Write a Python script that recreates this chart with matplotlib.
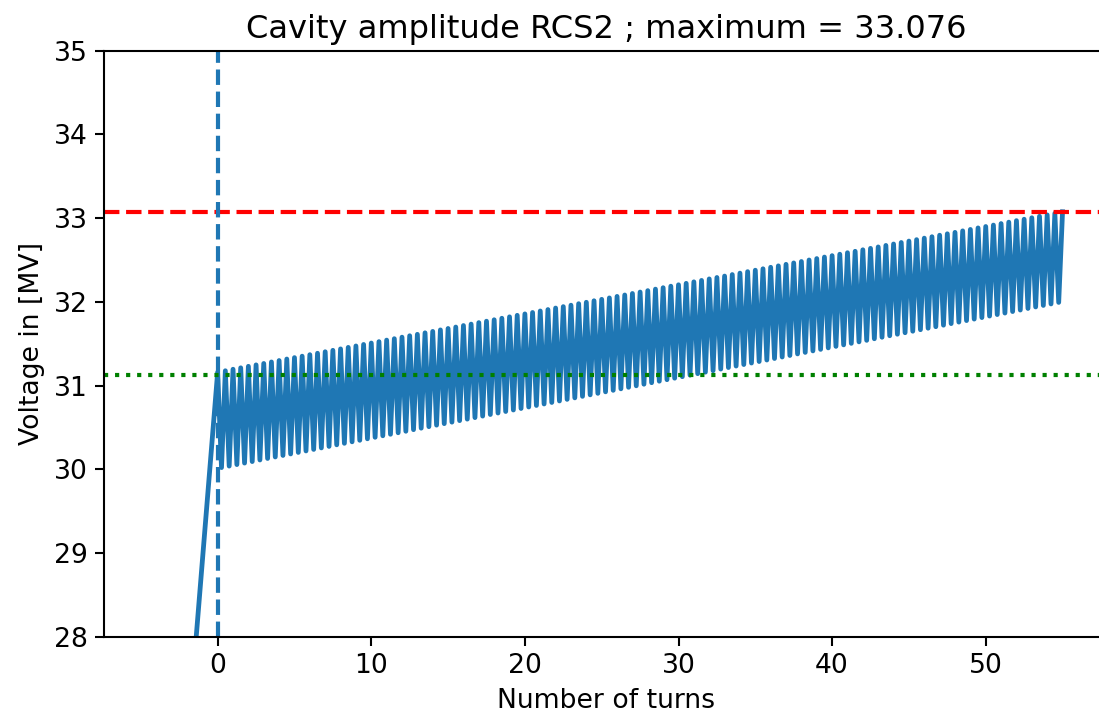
import numpy as np
import matplotlib
matplotlib.use("Agg")
import matplotlib.pyplot as plt

# sampled cavity voltage [MV]: top of each swing (every half turn from 0 to 55)
v_high = [31.160, 31.177, 31.195, 31.212, 31.230, 31.247, 31.264, 31.282, 31.299, 31.317,
          31.334, 31.351, 31.369, 31.386, 31.404, 31.421, 31.438, 31.456, 31.473, 31.491,
          31.508, 31.525, 31.543, 31.560, 31.578, 31.595, 31.612, 31.630, 31.647, 31.665,
          31.682, 31.699, 31.717, 31.734, 31.752, 31.769, 31.786, 31.804, 31.821, 31.839,
          31.856, 31.873, 31.891, 31.908, 31.926, 31.943, 31.960, 31.978, 31.995, 32.013,
          32.030, 32.047, 32.065, 32.082, 32.100, 32.117, 32.134, 32.152, 32.169, 32.187,
          32.204, 32.221, 32.239, 32.256, 32.274, 32.291, 32.308, 32.326, 32.343, 32.361,
          32.378, 32.395, 32.413, 32.430, 32.448, 32.465, 32.482, 32.500, 32.517, 32.535,
          32.552, 32.569, 32.587, 32.604, 32.622, 32.639, 32.656, 32.674, 32.691, 32.709,
          32.726, 32.743, 32.761, 32.778, 32.796, 32.813, 32.830, 32.848, 32.865, 32.883,
          32.900, 32.917, 32.935, 32.952, 32.970, 32.987, 33.004, 33.022, 33.039, 33.057,
          33.076]
# bottom of each swing (quarter turn after each top)
v_low = [30.020, 30.038, 30.056, 30.074, 30.092, 30.111, 30.129, 30.147, 30.165, 30.183,
         30.201, 30.219, 30.237, 30.255, 30.273, 30.292, 30.310, 30.328, 30.346, 30.364,
         30.382, 30.400, 30.418, 30.436, 30.454, 30.473, 30.491, 30.509, 30.527, 30.545,
         30.563, 30.581, 30.599, 30.617, 30.635, 30.654, 30.672, 30.690, 30.708, 30.726,
         30.744, 30.762, 30.780, 30.798, 30.816, 30.835, 30.853, 30.871, 30.889, 30.907,
         30.925, 30.943, 30.961, 30.979, 30.997, 31.016, 31.034, 31.052, 31.070, 31.088,
         31.106, 31.124, 31.142, 31.160, 31.178, 31.197, 31.215, 31.233, 31.251, 31.269,
         31.287, 31.305, 31.323, 31.341, 31.359, 31.378, 31.396, 31.414, 31.432, 31.450,
         31.468, 31.486, 31.504, 31.522, 31.540, 31.559, 31.577, 31.595, 31.613, 31.631,
         31.649, 31.667, 31.685, 31.703, 31.721, 31.740, 31.758, 31.776, 31.794, 31.812,
         31.830, 31.848, 31.866, 31.884, 31.902, 31.921, 31.939, 31.957, 31.975, 31.993]
# filling ramp before turn 0
ramp_turns = [-4.4]
ramp_volts = [21.2]

v_max = 33.076
v_ref = 31.13

turns_high = np.arange(len(v_high)) * 0.5
turns_low = np.arange(len(v_low)) * 0.5 + 0.25

turns = list(ramp_turns)
volts = list(ramp_volts)
for i in range(len(v_high)):
    turns.append(turns_high[i]); volts.append(v_high[i])
    if i < len(v_low):
        turns.append(turns_low[i]); volts.append(v_low[i])

# original was rendered at a higher dpi, so scale everything up by ~1.28
plt.rcParams['font.size'] = 12.8
plt.rcParams['xtick.major.size'] = 4.5
plt.rcParams['ytick.major.size'] = 4.5
plt.rcParams['xtick.major.width'] = 1.0
plt.rcParams['ytick.major.width'] = 1.0
plt.rcParams['axes.linewidth'] = 1.0

fig = plt.figure(figsize=(1099 / 150, 716 / 150), dpi=150)
ax = fig.add_axes([104.3 / 1099, 79.3 / 716, (1108 - 104.3) / 1099, 586 / 716])

ax.plot(turns, volts, color='tab:blue', lw=2.3)
ax.axhline(v_max, color='red', ls='--', lw=2)
ax.axhline(v_ref, color='green', ls=':', lw=2)
ax.axvline(0, color='tab:blue', ls='--', lw=2)

ax.set_xlim(-7.38, 57.96)
ax.set_ylim(28, 35)
ax.set_xlabel('Number of turns')
ax.set_ylabel('Voltage in [MV]')
ax.set_title(f'Cavity amplitude RCS2 ; maximum = {v_max:.3f}', fontsize=15.4)

fig.savefig('out.png', dpi=150)
